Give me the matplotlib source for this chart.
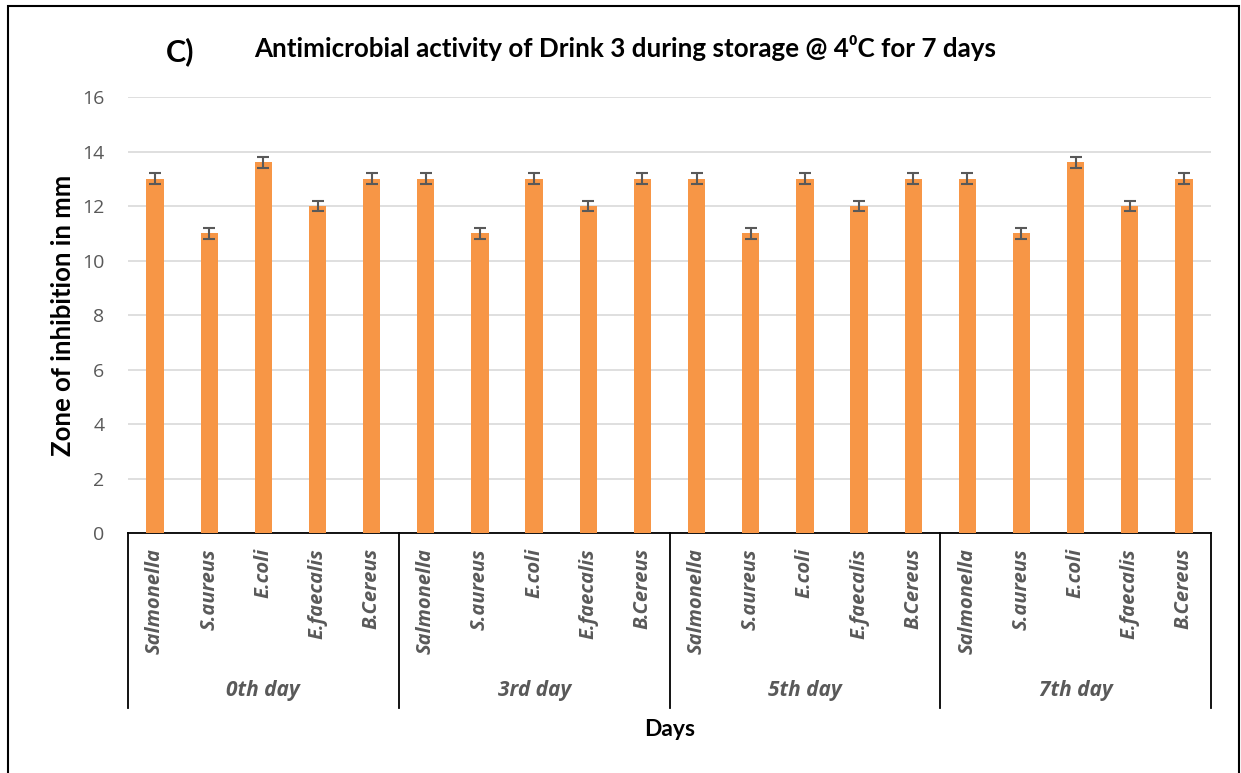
import numpy as np
import matplotlib.pyplot as plt
from matplotlib.patches import Rectangle
import matplotlib.transforms as mtransforms

# data
bacteria = ["Salmonella", "S.aureus", "E.coli", "E.faecalis", "B.Cereus"]
days = ["0th day", "3rd day", "5th day", "7th day"]
day0 = [13, 11, 13.6, 12, 13]
day3 = [13, 11, 13, 12, 13]
day5 = [13, 11, 13, 12, 13]
day7 = [13, 11, 13.6, 12, 13]
err = [0.2, 0.2, 0.2, 0.2, 0.2]

values = day0 + day3 + day5 + day7
errors = err * len(days)
labels = bacteria * len(days)
x = np.arange(len(values))

fig = plt.figure(figsize=(12.41, 7.73), dpi=100)
ax = fig.add_axes([128/1241, 240/773, 1083/1241, 436/773])

ax.bar(x, values, width=0.32, color="#F79646", zorder=3)
ax.errorbar(x, values, yerr=errors, fmt="none", ecolor="#595959",
            elinewidth=1.5, capsize=4.5, capthick=1.5, zorder=4)

ax.set_ylim(0, 16)
ax.set_xlim(-0.5, len(values) - 0.5)
ax.set_yticks(np.arange(0, 17, 2))
ax.yaxis.grid(True, color="#D9D9D9", lw=1.2, zorder=0)
ax.tick_params(axis="y", length=0, pad=17, labelsize=14, labelcolor="#595959")
for t in ax.get_yticklabels():
    t.set_fontfamily("Open Sans")

ax.set_xticks(x)
ax.set_xticklabels(labels, rotation=90, fontfamily="Open Sans", fontstyle="italic",
                   fontweight="bold", fontsize=14.5, color="#595959")
ax.tick_params(axis="x", length=0, pad=11)

for s in ["top", "right", "left"]:
    ax.spines[s].set_visible(False)
ax.spines["bottom"].set_color("black")
ax.spines["bottom"].set_linewidth(1.3)

# group separators and day labels under the axis
trans = mtransforms.blended_transform_factory(ax.transData, ax.transAxes)
n = len(bacteria)
for i in range(len(days) + 1):
    xs = i * n - 0.5
    ax.plot([xs, xs], [0, -0.401], color="black", lw=1.3, transform=trans, clip_on=False)
for i, d in enumerate(days):
    ax.text(i * n + (n - 1) / 2, -0.362, d, transform=trans, ha="center", va="center",
            fontfamily="Open Sans", fontstyle="italic", fontweight="bold",
            fontsize=15, color="#595959")

ax.set_ylabel("Zone of inhibition in mm", fontfamily="Lato", fontweight="bold",
              fontsize=18.5, labelpad=5)
fig.text(670/1241, 1 - 729/773, "Days", ha="center", va="center",
         fontfamily="Lato", fontweight="bold", fontsize=16.5)

fig.text(180/1241, 1 - 52/773, "C)", ha="center", va="center",
         fontfamily="Lato", fontweight="bold", fontsize=22)
fig.text(625/1241, 1 - 48/773, "Antimicrobial activity of Drink 3 during storage @ 4\u2070C for 7 days",
         ha="center", va="center", family=["Lato", "DejaVu Sans"], fontweight="bold", fontsize=18.7)

# outer border of the chart
fig.patches.append(Rectangle((8/1241, -0.05), 1231/1241, 1.05 - 6/773, transform=fig.transFigure,
                             fill=False, edgecolor="black", lw=1.5))

fig.savefig("out.png", dpi=100)
